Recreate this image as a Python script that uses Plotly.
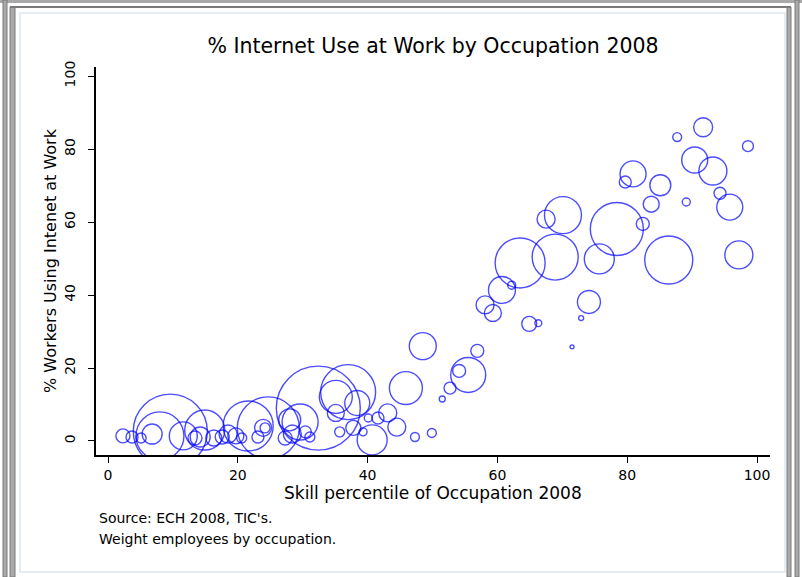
import numpy as np
import plotly.graph_objects as go

# Skill percentile of occupation (x), % workers using internet at work (y),
# employees by occupation (bubble weight)
skill_pct = [91.7, 87.7, 98.6, 90.4, 93.2, 80.9, 79.7, 85.1, 94.3, 89.1,
             83.7, 95.8, 82.4, 78.4, 86.4, 97.2, 70.1, 67.5, 68.9, 63.5,
             75.7, 60.7, 62.2, 58.1, 59.3, 74.1, 72.9, 64.9, 66.3, 71.5,
             48.5, 56.9, 55.5, 54.1, 52.7, 51.5, 45.9, 43.1, 44.5, 47.3,
             49.9, 40.7, 9.6, 24.7, 32.4, 37.0, 8.0, 14.9, 21.6, 29.6,
             28.0, 2.3, 3.7, 5.1, 6.8, 11.6, 13.4, 14.2, 16.3, 17.6,
             18.5, 19.7, 20.6, 23.1, 23.9, 24.2, 27.3, 28.4, 30.4, 31.1,
             35.1, 38.4, 37.8, 35.7, 39.3, 41.6, 35.1, 40.1]
internet_pct = [86.0, 83.3, 80.8, 77.0, 74.0, 73.2, 71.0, 70.1, 67.9, 65.5,
                64.9, 64.1, 59.5, 58.1, 49.6, 51.0, 61.9, 60.8, 50.4, 48.8,
                49.9, 41.4, 42.7, 37.3, 35.1, 38.1, 33.7, 32.1, 32.3, 25.8,
                26.0, 24.7, 18.1, 19.2, 14.5, 11.5, 14.5, 7.7, 3.8, 1.1,
                2.2, 0.3, 2.7, 3.6, 9.0, 13.4, 1.4, 3.0, 4.1, 5.2,
                5.8, 1.4, 1.1, 0.8, 1.9, 1.4, 0.8, 1.1, 0.8, 1.1,
                1.9, 1.4, 0.8, 1.1, 3.6, 3.6, 0.8, 1.9, 2.5, 1.1,
                7.7, 10.4, 3.6, 2.5, 2.5, 6.3, 12.1, 6.3]
employees = [90, 20, 30, 169, 196, 169, 36, 110, 36, 16,
             64, 169, 42, 702, 576, 196, 342, 81, 529, 625,
             225, 182, 16, 81, 72, 132, 6, 56, 12, 4,
             182, 42, 306, 42, 36, 9, 272, 81, 81, 20,
             20, 225, 1369, 961, 1764, 756, 576, 400, 625, 324,
             121, 49, 36, 25, 100, 196, 49, 100, 64, 49,
             81, 64, 25, 36, 72, 25, 49, 81, 36, 25,
             72, 156, 56, 25, 16, 36, 272, 16]

x_ticks = [0, 20, 40, 60, 80, 100]
y_ticks = [0, 20, 40, 60, 80, 100]

title_text = "% Internet Use at Work by Occupation 2008"
x_title = "Skill percentile of Occupation 2008"
y_title = "% Workers Using Intenet at Work"
note_1 = "Source: ECH 2008, TIC's."
note_2 = "Weight employees by occupation."

W, H = 802, 577
L, R, T, B = 96, 32, 67, 122
PW, PH = W - L - R, H - T - B
FONT = "DejaVu Sans"


def px(x):
    return (x - L) / PW


def py(y):
    return (H - B - y) / PH


sizes = 2.0 * np.sqrt(np.array(employees, dtype=float))

fig = go.Figure()
fig.add_trace(go.Scatter(
    x=skill_pct, y=internet_pct, mode="markers",
    marker=dict(symbol="circle-open", size=sizes, sizemode="diameter",
                color="#0000ff", line=dict(width=1.4, color="#0000ff")),
    hoverinfo="x+y", showlegend=False,
))

shapes = []
gray_fill = "#a9a9a9"
gray_line = "#7a7a7a"
# window frame
shapes.append(dict(type="rect", xref="paper", yref="paper", x0=px(0), x1=px(802),
                   y0=py(0), y1=py(3), fillcolor=gray_fill, line=dict(width=0), layer="below"))
for (a, b, top) in [(3, 7, 0), (10, 15, 7), (787, 791, 7), (795, 799, 0)]:
    shapes.append(dict(type="rect", xref="paper", yref="paper", x0=px(a), x1=px(b),
                       y0=py(top), y1=py(577), fillcolor=gray_fill,
                       line=dict(width=1, color=gray_line), layer="below"))
shapes.append(dict(type="line", xref="paper", yref="paper", x0=px(10), x1=px(791),
                   y0=py(7), y1=py(7), line=dict(width=2, color=gray_line), layer="below"))
# inner panel
shapes.append(dict(type="rect", xref="paper", yref="paper", x0=px(20), x1=px(785),
                   y0=py(13), y1=py(572), fillcolor="white",
                   line=dict(width=1.5, color="#dde7f0"), layer="below"))

annotations = [
    dict(text=y_title, xref="paper", yref="paper", x=px(50), y=py(261),
         textangle=-90, showarrow=False, xanchor="center", yanchor="middle",
         font=dict(family=FONT, size=16, color="black")),
    dict(text=x_title, xref="paper", yref="paper", x=px(433), y=py(493),
         showarrow=False, xanchor="center", yanchor="middle",
         font=dict(family=FONT, size=17, color="black")),
    dict(text=note_1, xref="paper", yref="paper", x=px(97), y=py(518),
         showarrow=False, xanchor="left", yanchor="middle",
         font=dict(family=FONT, size=14, color="black")),
    dict(text=note_2, xref="paper", yref="paper", x=px(97), y=py(539),
         showarrow=False, xanchor="left", yanchor="middle",
         font=dict(family=FONT, size=14, color="black")),
]

fig.update_layout(
    width=W, height=H,
    margin=dict(l=L, r=R, t=T, b=B, pad=0),
    paper_bgcolor="white", plot_bgcolor="white",
    title=dict(text=title_text, x=px(433), xref="paper", xanchor="center",
               y=1 - 46 / H, yref="container", yanchor="middle",
               font=dict(family=FONT, size=20.5, color="black")),
    shapes=shapes, annotations=annotations,
    xaxis=dict(range=[-1.85, 102.0], tickvals=x_ticks, ticktext=[str(v) for v in x_ticks],
               showgrid=False, zeroline=False, showline=True, linecolor="black", linewidth=1.5,
               ticks="outside", ticklen=6, tickwidth=1.3, tickcolor="black",
               ticklabelstandoff=0,
               tickfont=dict(family=FONT, size=14, color="black")),
    yaxis=dict(range=[-3.84, 102.5], tickvals=y_ticks, ticktext=[str(v) for v in y_ticks],
               showgrid=False, zeroline=False, showline=True, linecolor="black", linewidth=1.5,
               ticks="outside", ticklen=6, tickwidth=1.3, tickcolor="black",
               tickangle=-90, ticklabelstandoff=8,
               tickfont=dict(family=FONT, size=14, color="black")),
)

fig.write_html("out.html")
